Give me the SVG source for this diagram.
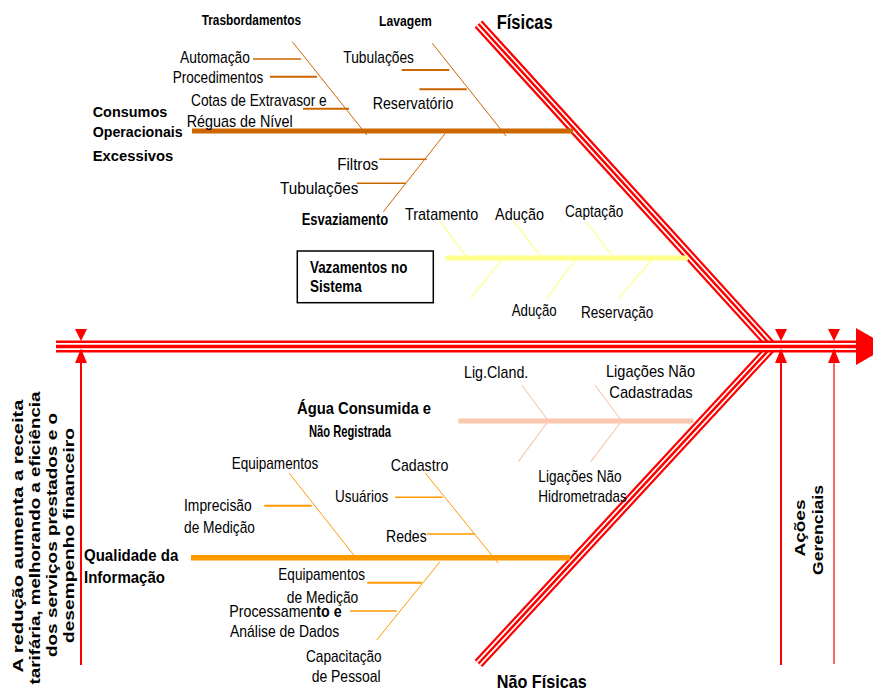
<svg xmlns="http://www.w3.org/2000/svg" width="873" height="692" viewBox="0 0 873 692">
<style>
text{font-family:"Liberation Sans",Arial,sans-serif;fill:#000}
.r{font-size:17px}
.b{font-weight:bold}
.red{stroke:#FF0000;fill:none}
.wht{stroke:#FFFFFF;fill:none}
.br{stroke:#CC6600;fill:none}
.yl{stroke:#FFFF8C;fill:none}
.pk{stroke:#FAC8AE;fill:none}
.or{stroke:#FF9900;fill:none}
</style>
<rect width="873" height="692" fill="#FFFFFF"/>
<g id="connectors">
  <!-- main triple-line spine and heads -->
  <g id="spine">
    <path class="red" stroke-width="10.5" d="M478.5,24 L772,346.5 M478.5,663.5 L772,346.5"/>
    <path class="wht" stroke-width="6" d="M478.5,24 L772,346.5 M478.5,663.5 L772,346.5"/>
    <path class="red" stroke-width="2.5" d="M478.5,24 L772,346.5 M478.5,663.5 L772,346.5"/>
    <path class="red" stroke-width="12" d="M56,346.5 H858"/>
    <path class="wht" stroke-width="7" d="M56,346.5 H858"/>
    <path class="red" stroke-width="3.4" d="M56,346.5 H858"/>
    <polygon fill="#FF0000" points="856,328 888,346.5 856,365"/>
  </g>
  <g id="markers" fill="#FF0000">
    <polygon points="75,329 87,329 81,341"/>
    <polygon points="75,363 87,363 81,348.5"/>
    <polygon points="775,329 787,329 781,341"/>
    <polygon points="775,363 787,363 781,348.5"/>
    <polygon points="828,329 840,329 834,341"/>
    <polygon points="828,363 840,363 834,348.5"/>
    <path class="red" stroke-width="2" d="M81,362 V665 M781,362 V665"/>
    <path class="red" stroke-width="1.2" d="M834,362 V664"/>
  </g>
  <!-- Consumos Operacionais Excessivos -->
  <g id="bone-consumos">
    <path class="br" stroke-width="5" d="M192,131 H573"/>
    <path class="br" stroke-width="1" d="M292.3,41.7 L366.7,135 M432.3,43.3 L506,136 M445.3,133.3 L383.3,211.7"/>
    <path class="br" stroke-width="1.5" d="M253,59 H301 M379.3,159.3 H426.7 M356.7,183.3 H406"/>
    <path class="br" stroke-width="2" d="M270,76.7 H317 M303,108.7 H349 M401.7,70 H449.3 M419.3,89.3 H466.7"/>
  </g>
  <!-- Vazamentos -->
  <g id="bone-vazamentos">
    <path class="yl" stroke-width="5" d="M445.7,258 H688"/>
    <path class="yl" stroke-width="1.2" d="M440,221.7 L466,256 M514,221.7 L540.7,256 M586.7,222.3 L612.7,256 M503.3,258 L471,297.7 M576.7,258 L546.7,298.3 M653.3,258 L618.3,298.3"/>
  </g>
  <!-- Agua consumida -->
  <g id="bone-agua">
    <path class="pk" stroke-width="5" d="M458.3,421 H693.3"/>
    <path class="pk" stroke-width="1.2" d="M521.7,385 L548.3,421 M595,385 L621.7,421 M548.3,421 L518.3,461.7 M621.7,421 L590.7,461.7"/>
  </g>
  <!-- Qualidade -->
  <g id="bone-qualidade">
    <path class="or" stroke-width="5.5" d="M191,557.8 H570"/>
    <path class="or" stroke-width="1" d="M289.3,473.3 L355,556.7 M425,472.7 L498.3,563.3 M440,561.7 L376.7,640"/>
    <path class="or" stroke-width="1.5" d="M395,497.3 H442.7 M427,534 H475 M350,611 H396.7"/>
    <path class="or" stroke-width="2" d="M264.3,505.7 H311.7 M367.3,582.7 H421.7"/>
  </g>
</g>

<g id="node-fisicas"><text class="b" x="496.7" y="29.3" font-size="20" textLength="56" lengthAdjust="spacingAndGlyphs">Físicas</text></g>
<g id="node-nao-fisicas"><text class="b" x="496.7" y="688.3" font-size="19" textLength="90" lengthAdjust="spacingAndGlyphs">Não Físicas</text></g>

<g id="node-consumos">
  <text class="b" font-size="15" x="92.7" y="116.7" textLength="74.6" lengthAdjust="spacingAndGlyphs">Consumos</text>
  <text class="b" font-size="15" x="92.7" y="136.7" textLength="90" lengthAdjust="spacingAndGlyphs">Operacionais</text>
  <text class="b" font-size="15" x="92.7" y="160.7" textLength="80.6" lengthAdjust="spacingAndGlyphs">Excessivos</text>
</g>
<g id="node-trasbordamentos">
  <text class="b" font-size="14.5" x="201.7" y="25" textLength="99.3" lengthAdjust="spacingAndGlyphs">Trasbordamentos</text>
  <text class="r" x="180" y="63" textLength="70" lengthAdjust="spacingAndGlyphs">Automação</text>
  <text class="r" x="172.7" y="82.7" textLength="90.6" lengthAdjust="spacingAndGlyphs">Procedimentos</text>
  <text class="r" x="191" y="106" textLength="135.7" lengthAdjust="spacingAndGlyphs">Cotas de Extravasor e</text>
  <text class="r" x="186.7" y="126.5" textLength="106" lengthAdjust="spacingAndGlyphs">Réguas de Nível</text>
</g>
<g id="node-lavagem">
  <text class="b" font-size="14.5" x="379" y="26" textLength="52.7" lengthAdjust="spacingAndGlyphs">Lavagem</text>
  <text class="r" x="343.3" y="62.7" textLength="70.7" lengthAdjust="spacingAndGlyphs">Tubulações</text>
  <text class="r" x="372.7" y="109" textLength="80.6" lengthAdjust="spacingAndGlyphs">Reservatório</text>
</g>
<g id="node-esvaziamento">
  <text class="r" x="337.3" y="170" textLength="41" lengthAdjust="spacingAndGlyphs">Filtros</text>
  <text class="r" x="280" y="194" textLength="78.3" lengthAdjust="spacingAndGlyphs">Tubulações</text>
  <text class="b" font-size="16" x="301.7" y="225" textLength="86.6" lengthAdjust="spacingAndGlyphs">Esvaziamento</text>
</g>
<g id="node-vazamentos">
  <rect x="297.3" y="251" width="136" height="51.7" fill="#FFFFFF" stroke="#000000" stroke-width="1.5"/>
  <text class="b" font-size="17" x="310" y="272.7" textLength="97.3" lengthAdjust="spacingAndGlyphs">Vazamentos no</text>
  <text class="b" font-size="17" x="310" y="291.7" textLength="51.7" lengthAdjust="spacingAndGlyphs">Sistema</text>
  <text class="r" x="405" y="220" textLength="73.3" lengthAdjust="spacingAndGlyphs">Tratamento</text>
  <text class="r" x="495" y="220" textLength="49" lengthAdjust="spacingAndGlyphs">Adução</text>
  <text class="r" x="565" y="217.3" textLength="58.3" lengthAdjust="spacingAndGlyphs">Captação</text>
  <text class="r" x="511.7" y="316" textLength="45" lengthAdjust="spacingAndGlyphs">Adução</text>
  <text class="r" x="581" y="318.3" textLength="72.3" lengthAdjust="spacingAndGlyphs">Reservação</text>
</g>
<g id="node-agua">
  <text class="b" font-size="16.5" x="297" y="414" textLength="134" lengthAdjust="spacingAndGlyphs">Água Consumida e</text>
  <text class="b" font-size="16.5" x="309" y="437" textLength="82" lengthAdjust="spacingAndGlyphs">Não Registrada</text>
  <text class="r" x="464" y="378.3" textLength="64.3" lengthAdjust="spacingAndGlyphs">Lig.Cland.</text>
  <text class="r" x="606" y="376.7" textLength="89" lengthAdjust="spacingAndGlyphs">Ligações Não</text>
  <text class="r" x="609.3" y="398.3" textLength="83.4" lengthAdjust="spacingAndGlyphs">Cadastradas</text>
  <text class="r" x="538.3" y="481.7" textLength="83.4" lengthAdjust="spacingAndGlyphs">Ligações Não</text>
  <text class="r" x="538.3" y="501.7" textLength="88.4" lengthAdjust="spacingAndGlyphs">Hidrometradas</text>
</g>
<g id="node-qualidade">
  <text class="b" font-size="17" x="84" y="560.7" textLength="94.3" lengthAdjust="spacingAndGlyphs">Qualidade da</text>
  <text class="b" font-size="17" x="84" y="583.3" textLength="81" lengthAdjust="spacingAndGlyphs">Informação</text>
  <text class="r" x="231.7" y="469.3" textLength="86.6" lengthAdjust="spacingAndGlyphs">Equipamentos</text>
  <text class="r" x="184" y="511" textLength="67.7" lengthAdjust="spacingAndGlyphs">Imprecisão</text>
  <text class="r" x="184" y="532.7" textLength="71" lengthAdjust="spacingAndGlyphs">de Medição</text>
  <text class="r" x="390.7" y="470.7" textLength="57.6" lengthAdjust="spacingAndGlyphs">Cadastro</text>
  <text class="r" x="335" y="501.7" textLength="53.3" lengthAdjust="spacingAndGlyphs">Usuários</text>
  <text class="r" x="386" y="541.7" textLength="40.7" lengthAdjust="spacingAndGlyphs">Redes</text>
  <text class="r" x="278.3" y="580" textLength="86.7" lengthAdjust="spacingAndGlyphs">Equipamentos</text>
  <text class="r" x="286.7" y="603.3" textLength="71.6" lengthAdjust="spacingAndGlyphs">de Medição</text>
  <text class="r" x="229.3" y="616.7" textLength="112.4" lengthAdjust="spacingAndGlyphs">Processamen<tspan font-weight="bold">to e</tspan></text>
  <text class="r" x="230" y="636.7" textLength="109.3" lengthAdjust="spacingAndGlyphs">Análise de Dados</text>
  <text class="r" x="306" y="661.7" textLength="75.7" lengthAdjust="spacingAndGlyphs">Capacitação</text>
  <text class="r" x="311.7" y="681.7" textLength="69" lengthAdjust="spacingAndGlyphs">de Pessoal</text>
</g>
<g id="node-reducao" font-size="14" font-weight="bold" text-anchor="middle">
  <text transform="translate(22.5,536) rotate(-90)" textLength="273" lengthAdjust="spacingAndGlyphs">A redução aumenta a receita</text>
  <text transform="translate(40,538) rotate(-90)" textLength="293" lengthAdjust="spacingAndGlyphs">tarifária, melhorando a eficiência</text>
  <text transform="translate(57,535) rotate(-90)" textLength="244" lengthAdjust="spacingAndGlyphs">dos serviços prestados e o</text>
  <text transform="translate(74,535.5) rotate(-90)" textLength="215" lengthAdjust="spacingAndGlyphs">desempenho financeiro</text>
</g>
<g id="node-acoes" font-size="14" font-weight="bold" text-anchor="middle">
  <text transform="translate(805,528) rotate(-90)" textLength="57" lengthAdjust="spacingAndGlyphs">Ações</text>
  <text transform="translate(823,530) rotate(-90)" textLength="90" lengthAdjust="spacingAndGlyphs">Gerenciais</text>
</g>
</svg>
